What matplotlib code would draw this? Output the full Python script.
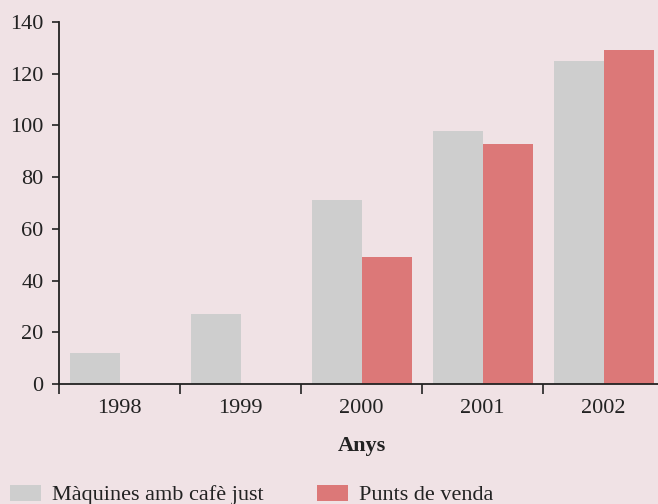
import matplotlib
matplotlib.use("Agg")
import matplotlib.pyplot as plt
import numpy as np
from matplotlib.patches import Patch

years = ["1998", "1999", "2000", "2001", "2002"]
maquines = [12, 27, 71, 98, 125]
punts = [0, 0, 49, 93, 129]
series_names = ["Màquines amb cafè just", "Punts de venda"]
yticks = [0, 20, 40, 60, 80, 100, 120, 140]

bg = "#f0e2e5"
grey = "#cecece"
red = "#dc7878"

plt.rcParams['font.family'] = ['Liberation Serif', 'DejaVu Serif']

fig = plt.figure(figsize=(6.58, 5.04), dpi=100, facecolor=bg)
W, H = 658, 504
ax = fig.add_axes([59 / W, 1 - 384 / H, (664 - 59) / W, (384 - 22) / H])
ax.set_facecolor(bg)

x = np.arange(len(years))
bw = 50 / 121
ax.bar(x - bw / 2, maquines, width=bw, color=grey, linewidth=0)
ax.bar(x + bw / 2, punts, width=bw, color=red, linewidth=0)

ax.set_xlim(-0.5, len(years) - 0.5)
ax.set_ylim(0, 140)
ax.set_yticks(yticks)
ax.set_yticklabels([str(v) for v in yticks], fontsize=16, color="#222222")

ax.set_xticks(x)
ax.set_xticklabels(years, fontsize=16, color="#222222")
ax.set_xticks(np.arange(-0.5, len(years) - 0.5, 1), minor=True)
ax.tick_params(axis='x', which='major', length=0, pad=11)
ax.tick_params(axis='x', which='minor', length=7, width=1.2, color="#222222")
ax.tick_params(axis='y', length=5, width=1.2, color="#222222", pad=6)

for s in ["top", "right"]:
    ax.spines[s].set_visible(False)
for s in ["left", "bottom"]:
    ax.spines[s].set_linewidth(1.3)
    ax.spines[s].set_color("#222222")

ax.set_xlabel("Anys", fontsize=16, fontweight="bold", color="#222222", labelpad=13)

handles = [Patch(facecolor=grey, edgecolor="none"), Patch(facecolor=red, edgecolor="none")]
fig.legend(handles, series_names, loc="center left", bbox_to_anchor=(10 / W, 1 - 495 / H),
           ncol=2, frameon=False, fontsize=16, handlelength=1.4, handleheight=0.72,
           handletextpad=0.5, columnspacing=2.4, borderpad=0, borderaxespad=0,
           labelcolor="#222222")

fig.savefig("out.png", dpi=100, facecolor=bg)
